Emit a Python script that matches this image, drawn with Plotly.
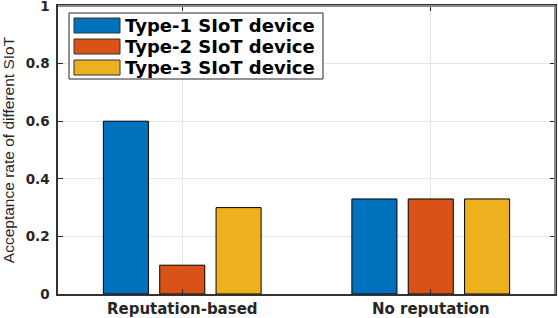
import plotly.graph_objects as go

categories = ["Reputation-based", "No reputation"]
series_names = ["Type-1 SIoT device", "Type-2 SIoT device", "Type-3 SIoT device"]
type1 = [0.6, 0.33]
type2 = [0.1, 0.33]
type3 = [0.3, 0.33]
y_ticks = [0, 0.2, 0.4, 0.6, 0.8, 1]
y_tick_labels = ["0", "0.2", "0.4", "0.6", "0.8", "1"]

colors = ["#0072BD", "#D95319", "#EDB120"]
values = [type1, type2, type3]

fig = go.Figure()
for name, vals, col in zip(series_names, values, colors):
    fig.add_trace(go.Bar(
        x=categories, y=vals, name=name,
        marker=dict(color=col, line=dict(color="#000000", width=1)),
        showlegend=False, hoverinfo="skip",
    ))

W, H = 558, 318
L, R, T, B = 58, 3, 6, 24
pw = W - L - R
ph = H - T - B

def px_x(x):
    return (x - L) / pw

def px_y(y):
    return (H - B - y) / ph

shapes = []
annotations = []
# legend box
shapes.append(dict(type="rect", xref="paper", yref="paper",
                   x0=px_x(69), x1=px_x(323), y0=px_y(79), y1=px_y(13),
                   line=dict(color="#262626", width=1), fillcolor="white", layer="above"))
row_centers = [25.5, 46.5, 67.5]
for name, col, yc in zip(series_names, colors, row_centers):
    shapes.append(dict(type="rect", xref="paper", yref="paper",
                       x0=px_x(74), x1=px_x(120), y0=px_y(yc + 7.5), y1=px_y(yc - 7.5),
                       line=dict(color="#333333", width=1), fillcolor=col, layer="above"))
    annotations.append(dict(xref="paper", yref="paper", x=px_x(123), y=px_y(yc),
                            text=name, showarrow=False, xanchor="left", yanchor="middle",
                            font=dict(family="DejaVu Sans", size=18, color="#000000", weight="bold")))
# lighter top/right box lines
shapes.append(dict(type="line", xref="paper", yref="paper", x0=0, x1=1, y0=1, y1=1,
                   line=dict(color="#8c8c8c", width=2), layer="above"))
shapes.append(dict(type="line", xref="paper", yref="paper", x0=1, x1=1, y0=0, y1=1,
                   line=dict(color="#8c8c8c", width=2), layer="above"))

fig.update_layout(
    width=W, height=H,
    margin=dict(l=L, r=R, t=T, b=B, autoexpand=False),
    paper_bgcolor="white", plot_bgcolor="white",
    barmode="group", bargap=0.32, bargroupgap=0.2,
    shapes=shapes, annotations=annotations,
    xaxis=dict(
        range=[-0.5, 1.5], showgrid=True, gridcolor="#e6e6e6", gridwidth=1,
        ticks="inside", ticklen=5, tickcolor="#262626",
        showline=True, linecolor="#333333", linewidth=1.5, mirror="ticks",
        tickfont=dict(family="DejaVu Sans", size=15, color="#262626", weight="bold"),
        zeroline=False, automargin=False, ticklabeloverflow="allow",
    ),
    yaxis=dict(
        range=[0, 1], tickvals=y_ticks, ticktext=y_tick_labels,
        showgrid=True, gridcolor="#e6e6e6", gridwidth=1,
        ticks="inside", ticklen=5, tickcolor="#262626",
        showline=True, linecolor="#333333", linewidth=1.5, mirror="ticks",
        tickfont=dict(family="DejaVu Sans", size=13.5, color="#262626", weight="bold"),
        ticklabelstandoff=4,
        zeroline=False, automargin=False, ticklabeloverflow="allow",
        title=dict(text="Acceptance rate of different SIoT", standoff=8,
                   font=dict(family="Liberation Sans", size=15.5, color="#262626")),
    ),
)

fig.write_html(
    "out.html",
    config={"displayModeBar": False},
    post_script="document.body.style.margin='0';document.body.style.overflow='hidden';",
)
